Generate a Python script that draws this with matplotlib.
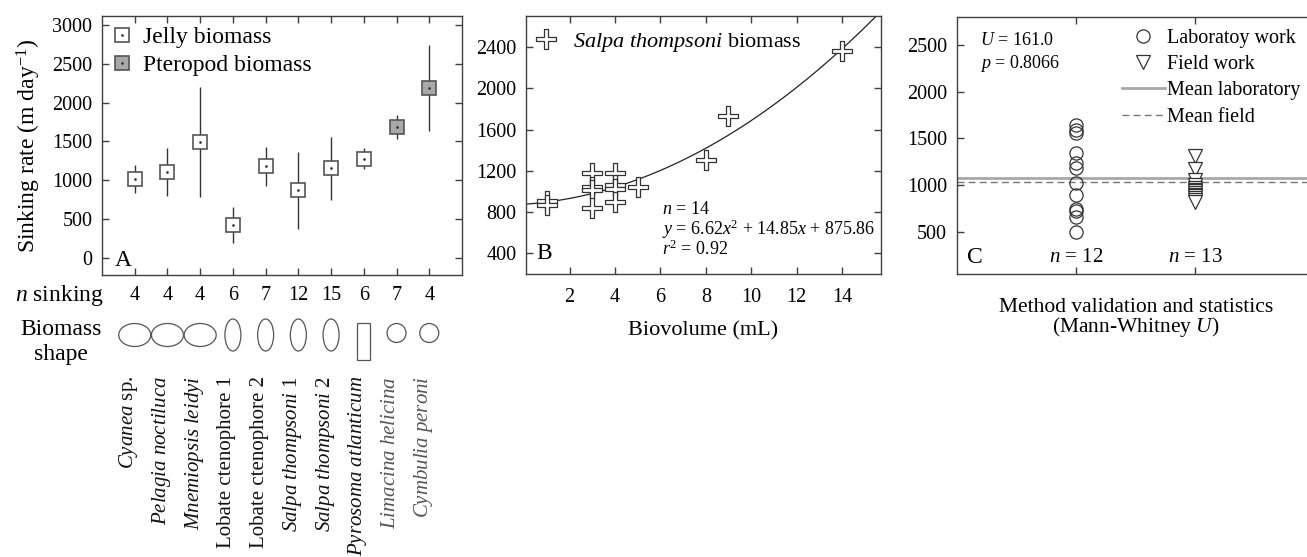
import matplotlib
matplotlib.use('Agg')
import matplotlib.pyplot as plt
import numpy as np
from matplotlib.patches import Ellipse, Rectangle
from matplotlib.transforms import blended_transform_factory, ScaledTranslation, offset_copy

plt.rcParams['font.family'] = ['Liberation Serif', 'DejaVu Serif']
plt.rcParams['mathtext.fontset'] = 'custom'
plt.rcParams['mathtext.rm'] = 'Liberation Serif'
plt.rcParams['mathtext.it'] = 'Liberation Serif:italic'
plt.rcParams['mathtext.bf'] = 'Liberation Serif:bold'

# ---------------- data ----------------
species = [r'$Cyanea$ sp.', r'$Pelagia\ noctiluca$', r'$Mnemiopsis\ leidyi$',
           'Lobate ctenophore 1', 'Lobate ctenophore 2', r'$Salpa\ thompsoni$ 1',
           r'$Salpa\ thompsoni$ 2', r'$Pyrosoma\ atlanticum$',
           r'$Limacina\ helicina$', r'$Cymbulia\ peroni$']
group = ['jelly'] * 8 + ['pteropod'] * 2
sink_mean = [1020, 1106, 1491, 424, 1179, 870, 1153, 1277, 1684, 2190]
sink_sd = [178, 315, 707, 234, 255, 497, 410, 138, 152, 553]
n_sinking = [4, 4, 4, 6, 7, 12, 15, 6, 7, 4]
shape = ['oblate', 'oblate', 'oblate', 'prolate', 'prolate', 'prolate',
         'prolate', 'cylinder', 'sphere', 'sphere']

salpa_biovol = [1, 1, 3, 3, 3, 3, 4, 4, 4, 4, 5, 8, 9, 14]
salpa_sink = [905, 870, 1177, 1047, 1010, 837, 1183, 1060, 1021, 901, 1041, 1300, 1733, 2358]
fit_coef = [6.62, 14.85, 875.86]

lab_sink = [1640, 1590, 1555, 1345, 1240, 1180, 1020, 890, 745, 720, 655, 500]
field_sink = [1310, 1175, 1060, 1005, 970, 950, 935, 915, 900, 880, 865, 845, 825]
mean_lab = 1073
mean_field = 1031

# ---------------- style ----------------
W, H = 1307, 557
fig = plt.figure(figsize=(W / 100, H / 100), dpi=100)
SP = '#404040'


def px_axes(l, t, r, b):
    return [l / W, 1 - b / H, (r - l) / W, (b - t) / H]


def style_ax(ax, pad=7):
    for s in ax.spines.values():
        s.set_color(SP)
        s.set_linewidth(1.0)
    ax.tick_params(direction='in', top=True, right=True, length=5, width=1,
                   color=SP, labelsize=14.5, pad=pad)


# ---------------- Panel A ----------------
axA = fig.add_axes(px_axes(102, 16, 462, 275))
style_ax(axA)
x = np.arange(1, len(species) + 1)
axA.errorbar(x, sink_mean, yerr=sink_sd, fmt='none', ecolor='#333333',
             elinewidth=1.0, zorder=1)
jel = [i for i, g in enumerate(group) if g == 'jelly']
pte = [i for i, g in enumerate(group) if g == 'pteropod']
hj, = axA.plot(x[jel], np.array(sink_mean)[jel], 's', ms=9.5, mfc='white',
               mec='#555555', mew=1.2, zorder=3)
hp, = axA.plot(x[pte], np.array(sink_mean)[pte], 's', ms=9.5, mfc='#a8a8a8',
               mec='#555555', mew=1.2, zorder=3)
hd, = axA.plot(x, sink_mean, 'o', ms=0.9, color='#333333', zorder=4)
axA.set_xlim(0, 11)
axA.set_ylim(-220, 3115)
axA.set_yticks(np.arange(0, 3001, 500))
axA.set_xticks(x)
axA.set_xticklabels([])
axA.set_ylabel(r'Sinking rate (m day$^{-1}$)', fontsize=17)
axA.yaxis.set_label_coords(-0.165, 0.5)
axA.legend([(hj, hd), (hp, hd)], ['Jelly biomass', 'Pteropod biomass'],
           loc='upper left', frameon=False, fontsize=17, handlelength=0.8,
           handletextpad=0.5, borderaxespad=0.0, borderpad=0.45,
           labelspacing=0.28)
axA.text(0.035, 0.055, 'A', transform=axA.transAxes, fontsize=17, va='center')

blend = blended_transform_factory(axA.transData, fig.transFigure)
fig.text(104 / W, 1 - 295 / H, r'$n$ sinking', fontsize=17, ha='right', va='center')
fig.text(61 / W, 1 - 342 / H, 'Biomass\nshape', fontsize=17, ha='center',
         va='center', linespacing=1.3)
for xi, n in zip(x, n_sinking):
    axA.text(xi, 1 - 295 / H, str(n), transform=blend, fontsize=14.5,
             ha='center', va='center')

shape_style = {'oblate': ('ellipse', 32, 23, 335),
               'prolate': ('ellipse', 16, 32, 335),
               'cylinder': ('rect', 13, 37, 341),
               'sphere': ('ellipse', 19, 19, 333)}
for xi, s in zip(x, shape):
    kind, w, h, cy = shape_style[s]
    tr = fig.dpi_scale_trans + ScaledTranslation(xi, 1 - cy / H, blend)
    if kind == 'ellipse':
        p = Ellipse((0, 0), w / 100, h / 100, transform=tr, fill=False,
                    ec='#555555', lw=0.9, clip_on=False)
    else:
        p = Rectangle((-w / 200, -h / 200), w / 100, h / 100, transform=tr,
                      fill=False, ec='#555555', lw=0.9, clip_on=False)
    fig.add_artist(p)

lab_tr = offset_copy(blend, fig=fig, x=-6, y=0, units='dots')
for xi, sp, g in zip(x, species, group):
    axA.text(xi, 1 - 376 / H, sp, transform=lab_tr, rotation=90, fontsize=15,
             ha='center', va='top', color='#111111' if g == 'jelly' else '#555555')

# ---------------- Panel B ----------------
axB = fig.add_axes(px_axes(526, 16, 881, 274))
style_ax(axB)
axB.tick_params(axis='x', pad=10)
cross = [(-0.2, 1), (0.2, 1), (0.2, 0.2), (1, 0.2), (1, -0.2), (0.2, -0.2),
         (0.2, -1), (-0.2, -1), (-0.2, -0.2), (-1, -0.2), (-1, 0.2), (-0.2, 0.2),
         (-0.2, 1)]
hb, = axB.plot(salpa_biovol, salpa_sink, linestyle='none', marker=cross, ms=15,
               mfc='white', mec='#333333', mew=0.9, zorder=3)
xx = np.linspace(0, 16, 300)
axB.plot(xx, np.polyval(fit_coef, xx), color='#222222', lw=0.9, zorder=2)
axB.set_xlim(0.08, 15.72)
axB.set_ylim(200, 2700)
axB.set_xticks(np.arange(2, 15, 2))
axB.set_yticks(np.arange(400, 2401, 400))
axB.set_xlabel('Biovolume (mL)', fontsize=16, labelpad=10)
axB.legend([hb], [r'$Salpa\ thompsoni$ biomass'], loc='upper left',
           bbox_to_anchor=(0.0, 0.969), frameon=False, fontsize=16,
           handlelength=1.2, handletextpad=0.6, borderaxespad=0.0, borderpad=0.3)
axB.text(0.383, 0.17,
         '$n$ = 14\n$y$ = 6.62$x^2$ + 14.85$x$ + 875.86\n$r^2$ = 0.92',
         transform=axB.transAxes, fontsize=13, ha='left', va='center',
         linespacing=0.95)
axB.text(0.03, 0.08, 'B', transform=axB.transAxes, fontsize=17, va='center')

# ---------------- Panel C ----------------
axC = fig.add_axes(px_axes(956.7, 17, 1314.6, 274))
style_ax(axC)
hl, = axC.plot([1] * len(lab_sink), lab_sink, 'o', ms=9.5, mfc='none',
               mec='#333333', mew=0.9, linestyle='none', zorder=3)
hf, = axC.plot([2] * len(field_sink), field_sink, 'v', ms=10, mfc='white',
               mec='#333333', mew=0.9, linestyle='none', zorder=3)
hml = axC.axhline(mean_lab, color='#a8a8a8', lw=2.0, zorder=2)
hmf = axC.axhline(mean_field, color='#777777', lw=1.0, ls=(0, (5, 3)), zorder=2)
axC.set_xlim(0, 3)
axC.set_ylim(50, 2800)
axC.set_xticks([1, 2])
axC.set_xticklabels([])
axC.set_yticks(np.arange(500, 2501, 500))
axC.set_xlabel('Method validation and statistics\n(Mann-Whitney $U$)',
               fontsize=15.5, labelpad=10, linespacing=0.9)
axC.legend([hl, hf, hml, hmf],
           ['Laboratoy work', 'Field work', 'Mean laboratory', 'Mean field'],
           loc='upper right', bbox_to_anchor=(0.993, 1.0), frameon=False,
           fontsize=14.5, handlelength=2.1, handletextpad=0.1,
           borderaxespad=0.2, labelspacing=0.35)
axC.text(0.065, 0.94, '$U$ = 161.0\n$p$ = 0.8066', transform=axC.transAxes,
         fontsize=13, ha='left', va='top', linespacing=1.25)
bC = blended_transform_factory(axC.transData, axC.transAxes)
axC.text(1, 0.065, '$n$ = 12', transform=bC, fontsize=15, ha='center', va='center')
axC.text(2, 0.065, '$n$ = 13', transform=bC, fontsize=15, ha='center', va='center')
axC.text(0.03, 0.065, 'C', transform=axC.transAxes, fontsize=17, va='center')

fig.savefig('out.png', dpi=100)
